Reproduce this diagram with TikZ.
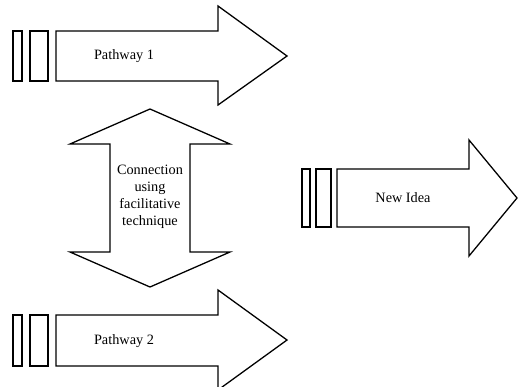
\documentclass[tikz,border=0pt]{standalone}
\usepackage{fontspec}
\setmainfont{Liberation Serif}
\usetikzlibrary{positioning}

\begin{document}
\begin{tikzpicture}[x=0.7pt,y=-0.7pt,line join=miter,
  outline/.style={draw,line width=0.9pt,fill=white},
  label text/.style={font=\rmfamily\normalsize,align=center}]
\useasboundingbox (0,0) rectangle (518,386);

% Pathway 1
  \draw[outline] (13,31) rectangle (22,81);
  \draw[outline] (30,31) rectangle (48,81);
  \draw[outline] (56,31) -- (218,31) -- (218,6) -- (287,56) -- (218,105) -- (218,81) -- (56,81) -- cycle;
  \node[label text] (path1) at (124,56) {Pathway 1};

% Connection (double arrow)
  \draw[outline] (150,109) -- (230,144) -- (190,144) -- (190,252) -- (230,252) -- (150,287)
    -- (70,252) -- (110,252) -- (110,144) -- (70,144) -- cycle;
  \node[label text] (conn) at (150,197) {Connection\\using\\facilitative\\technique};

% Pathway 2
  \draw[outline] (13,315) rectangle (22,366);
  \draw[outline] (30,315) rectangle (48,366);
  \draw[outline] (56,315) -- (218,315) -- (218,290) -- (287,340) -- (218,390) -- (218,366) -- (56,366) -- cycle;
  \node[label text] (path2) at (124,341) {Pathway 2};

% New Idea
  \draw[outline] (302,169) rectangle (310,227);
  \draw[outline] (316,169) rectangle (331,227);
  \draw[outline] (337,169) -- (469,169) -- (469,140) -- (517,198) -- (469,256) -- (469,227) -- (337,227) -- cycle;
  \node[label text] (idea) at (403,198) {New Idea};

\end{tikzpicture}
\end{document}
